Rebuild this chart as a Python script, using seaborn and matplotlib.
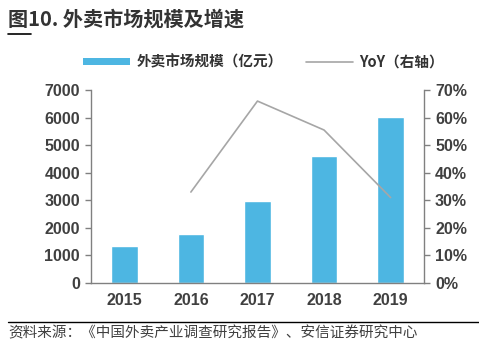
import matplotlib
matplotlib.use("Agg")
import matplotlib.pyplot as plt
import seaborn as sns
import pandas as pd
from matplotlib.lines import Line2D
from matplotlib.patches import Patch
from matplotlib.ticker import FuncFormatter, MultipleLocator

years = ["2015", "2016", "2017", "2018", "2019"]
market_size = [1340, 1780, 2970, 4600, 6040]          # 亿元
yoy_years = ["2016", "2017", "2018", "2019"]
yoy = [0.33, 0.66, 0.555, 0.31]

bar_color = "#4DB6E2"
line_color = "#A6A6A6"
text_color = "#404040"

sns.set_theme(style="white")
plt.rcParams["font.family"] = ["Noto Sans CJK SC", "DejaVu Sans"]

fig = plt.figure(figsize=(4.79, 3.49), dpi=100)
ax = fig.add_axes([0.19, 0.189, 0.695, 0.553])

df_bar = pd.DataFrame({"year": years, "size": market_size})
sns.barplot(data=df_bar, x="year", y="size", color=bar_color, width=0.4,
            saturation=1, ax=ax, zorder=2)

ax2 = ax.twinx()
x_pos = [years.index(y) for y in yoy_years]
df_line = pd.DataFrame({"x": x_pos, "yoy": yoy})
sns.lineplot(data=df_line, x="x", y="yoy", color=line_color, linewidth=1.2, ax=ax2)

ax.set_xlim(-0.5, 4.5)
ax.set_ylim(0, 7000)
ax2.set_ylim(0, 0.7)
ax.yaxis.set_major_locator(MultipleLocator(1000))
ax2.yaxis.set_major_locator(MultipleLocator(0.1))
ax2.yaxis.set_major_formatter(FuncFormatter(lambda v, p: f"{v*100:.0f}%"))

for a in (ax, ax2):
    a.set_xlabel("")
    a.set_ylabel("")
    for s in a.spines.values():
        s.set_visible(False)

ax.spines["left"].set_visible(True)
ax.spines["bottom"].set_visible(True)
ax2.spines["right"].set_visible(True)
for s in (ax.spines["left"], ax.spines["bottom"], ax2.spines["right"]):
    s.set_color("#808080")
    s.set_linewidth(1.0)

tick_font = dict(family=["Liberation Sans", "DejaVu Sans"], weight="bold", size=11.5)
ax.tick_params(axis="y", which="major", direction="out", length=4, width=1,
               color="#808080", pad=4, labelcolor=text_color, left=True)
ax2.tick_params(axis="y", which="major", direction="out", length=4, width=1,
                color="#808080", pad=4, labelcolor=text_color, right=True)
ax.tick_params(axis="x", length=0, pad=7, labelcolor=text_color)
for lab in ax.get_yticklabels() + ax2.get_yticklabels() + ax.get_xticklabels():
    lab.set_fontproperties(tick_font)
    lab.set_fontsize(11.5)

# title
fig.text(0.017, 0.945, "图10. 外卖市场规模及增速", fontsize=14.5, weight="bold",
         color="#333333", ha="left", va="center",
         family=["Noto Sans CJK SC", "DejaVu Sans"])
fig.add_artist(Line2D([0.017, 0.064], [0.903, 0.903], color="black", lw=1.2))

# legend
handles = [Patch(facecolor=bar_color, edgecolor="none"),
           Line2D([0], [0], color=line_color, lw=1.2)]
labels = ["外卖市场规模（亿元）", "YoY（右轴）"]
fig.legend(handles, labels, loc="center", bbox_to_anchor=(0.55, 0.823), ncol=2,
           frameon=False, handlelength=3.2, handleheight=0.45, columnspacing=1.6,
           handletextpad=0.45,
           prop=dict(family=["Noto Sans CJK SC", "DejaVu Sans"], weight="bold", size=10.5))
for t in fig.legends[0].get_texts():
    t.set_color("#333333")

# source note
fig.add_artist(Line2D([0.017, 1.0], [0.077, 0.077], color="black", lw=1.0))
fig.text(0.017, 0.045, "资料来源：《中国外卖产业调查研究报告》、安信证券研究中心",
         fontsize=10.5, color="#404040", ha="left", va="center",
         family=["Noto Sans CJK SC", "DejaVu Sans"])

fig.savefig("out.png", dpi=100)
